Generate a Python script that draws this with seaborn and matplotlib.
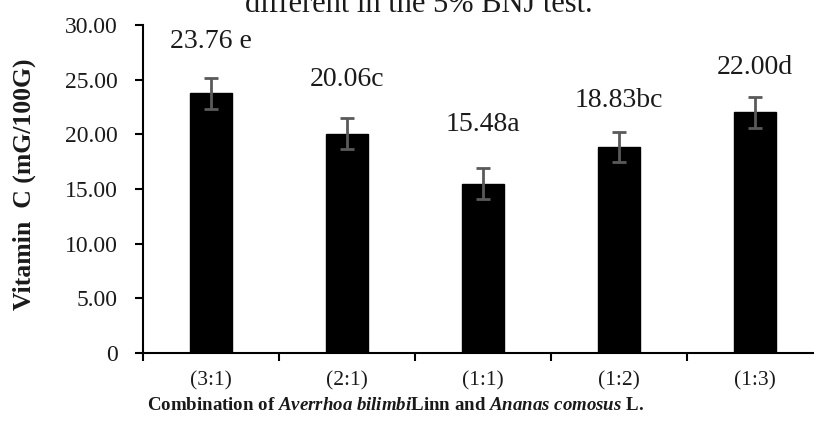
import matplotlib
matplotlib.use("Agg")
import matplotlib.pyplot as plt
from matplotlib.ticker import FixedLocator
import seaborn as sns
import pandas as pd

# Vitamin C content per fruit-ratio combination
ratios = ["(3:1)", "(2:1)", "(1:1)", "(1:2)", "(1:3)"]
vitamin_c = [23.76, 20.06, 15.48, 18.83, 22.00]
std_err = [1.4, 1.4, 1.4, 1.4, 1.4]
letters = [" e", "c", "a", "bc", "d"]
y_ticks = [0, 5, 10, 15, 20, 25, 30]

df = pd.DataFrame({"ratio": ratios, "vitc": vitamin_c})

sns.set_theme(style="white")
plt.rcParams["font.family"] = ["Liberation Serif", "DejaVu Serif"]
plt.rcParams["mathtext.fontset"] = "custom"
plt.rcParams["mathtext.bfit"] = "Liberation Serif:italic:bold"
plt.rcParams["mathtext.it"] = "Liberation Serif:italic"
plt.rcParams["mathtext.rm"] = "Liberation Serif"
plt.rcParams["mathtext.bf"] = "Liberation Serif:bold"

fig = plt.figure(figsize=(8.14, 4.30), dpi=100)
ax = fig.add_axes([143 / 814, 77 / 430, 680 / 814, 328 / 430])

sns.barplot(data=df, x="ratio", y="vitc", color="black", width=0.31,
            errorbar=None, saturation=1, ax=ax, edgecolor="black")
ax.errorbar(x=range(len(ratios)), y=vitamin_c, yerr=std_err, fmt="none",
            ecolor="#5a5a5a", elinewidth=2.0, capsize=4.7, capthick=2.0, zorder=5)

# value + significance letter above each bar
label_offsets = [4.74, 4.94, 5.42, 4.22, 4.10]
for i, (v, s, off) in enumerate(zip(vitamin_c, letters, label_offsets)):
    ax.text(i, v + off, f"{v:.2f}{s}", ha="center", va="center",
            fontsize=20, color="#1a1a1a")

ax.set_xlim(-0.5, len(ratios) - 0.5)
ax.set_ylim(0, 30)
ax.set_yticks(y_ticks)
ax.set_yticklabels(["0" if t == 0 else f"{t:.2f}" for t in y_ticks])

ax.xaxis.set_minor_locator(FixedLocator([i - 0.5 for i in range(len(ratios) + 1)]))
ax.tick_params(axis="x", which="major", length=0, pad=13, labelsize=15.5,
               labelcolor="#1a1a1a")
ax.tick_params(axis="x", which="minor", length=6, width=1.5, direction="out",
               bottom=True, color="black")
ax.tick_params(axis="y", which="major", length=6, width=1.5, direction="out",
               left=True, pad=12, labelsize=17, labelcolor="#1a1a1a", color="black")

for side in ["top", "right"]:
    ax.spines[side].set_visible(False)
for side in ["left", "bottom"]:
    ax.spines[side].set_color("black")
    ax.spines[side].set_linewidth(1.5)

ax.set_xlabel(r"Combination of $\mathbfit{Averrhoa\ bilimbi}$Linn and $\mathbfit{Ananas\ comosus}$ L.",
              fontsize=13.6, fontweight="bold", color="#1a1a1a")
ax.xaxis.set_label_coords((395 - 143) / 680, -0.135)
ax.set_ylabel("Vitamin  C (mG/100G)", fontsize=18.5, fontweight="bold", color="#1a1a1a")
ax.yaxis.set_label_coords(-0.157, (353 - 184) / 328)

fig.text(419 / 814, (430 - 12) / 430, "different in the 5% BNJ test.",
         ha="center", va="baseline", fontsize=22, color="#1a1a1a")

fig.savefig("out.png", dpi=100)
